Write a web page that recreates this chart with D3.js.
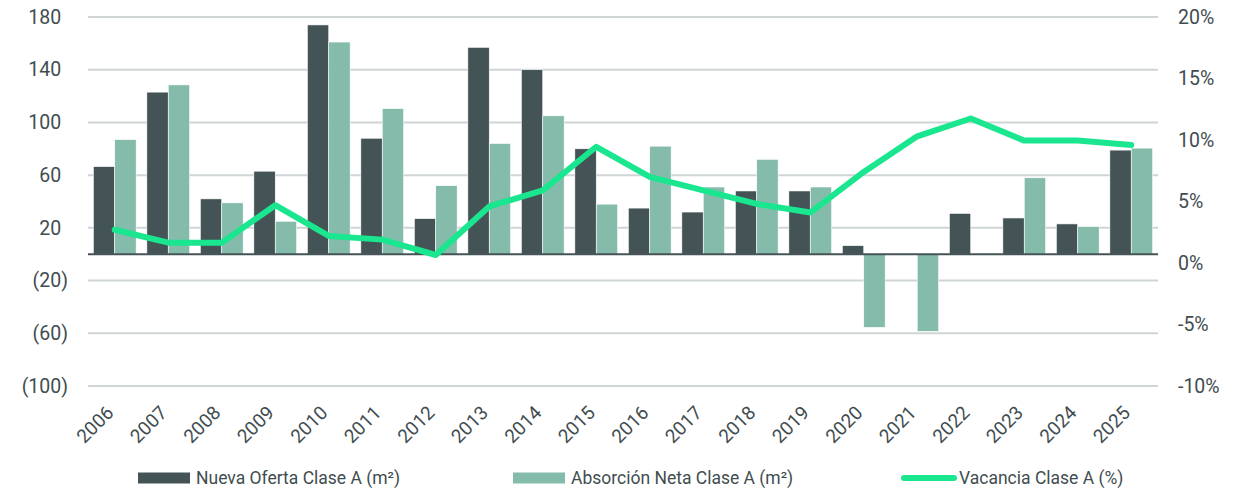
<!DOCTYPE html>
<html>
<head>
<meta charset="utf-8">
<script src="https://cdn.jsdelivr.net/npm/d3@7"></script>
<style>
	body { margin: 0; background: #fff; }
	text { font-family: Roboto, "Noto Sans", sans-serif; fill: #3f4d50; }
</style>
</head>
<body>
<svg id="mySVG" width="1248" height="492"></svg>
<script>
//Data
var years = ["2006","2007","2008","2009","2010","2011","2012","2013","2014","2015",
	"2016","2017","2018","2019","2020","2021","2022","2023","2024","2025"];
var nuevaOferta = [66.5, 123, 42, 63, 174, 88, 27, 157, 140, 80,
	35, 32, 48, 48, 6.5, 0, 31, 27.5, 23, 79];
var absorcionNeta = [87, 128.5, 39, 25, 161, 110.5, 52, 84, 105, 38,
	82, 51, 72, 51, -55.5, -58.5, 0, 58, 21, 80.5];
var vacancia = [2.7, 1.65, 1.65, 4.7, 2.2, 1.9, 0.65, 4.6, 5.9, 9.45,
	7.0, 5.9, 4.8, 4.1, 7.4, 10.3, 11.75, 9.95, 9.95, 9.6];
var leftTicks = [180, 140, 100, 60, 20, -20, -60, -100];
var rightTicks = [20, 15, 10, 5, 0, -5, -10];
var seriesNames = ["Nueva Oferta Clase A (m²)", "Absorción Neta Clase A (m²)", "Vacancia Clase A (%)"];

var colDark = "#445356";
var colLight = "#84bbab";
var colLine = "#1ae68f";
var colGrid = "#cfd5d6";

var svg = d3.select('#mySVG');
var plotLeft = 88, plotRight = 1158, plotTop = 17, plotBottom = 386;

var x0 = d3.scaleBand().domain(years).range([plotLeft, plotRight])
	.paddingInner(0.2).paddingOuter(0.1);
var x1 = d3.scaleBand().domain(["oferta", "absorcion"]).range([0, x0.bandwidth()]);
var yL = d3.scaleLinear().domain([-100, 180]).range([plotBottom, plotTop]);
var yR = d3.scaleLinear().domain([-10, 20]).range([plotBottom, plotTop]);

//gridlines
svg.append('g').selectAll('line')
	.data(leftTicks)
	.join('line')
	.attr("x1", plotLeft).attr("x2", plotRight)
	.attr("y1", function(d){ return yL(d); })
	.attr("y2", function(d){ return yL(d); })
	.attr("stroke", colGrid)
	.attr("stroke-width", 2);

//left axis labels, positives keep a hidden ")" so digits line up
var leftAxis = d3.axisLeft(yL).tickValues(leftTicks).tickSize(0).tickPadding(0)
	.tickFormat(function(d){ return d < 0 ? "(" + (-d) + ")" : d; });
var gl = svg.append('g').attr("transform", "translate(68,0)").call(leftAxis);
gl.select('.domain').remove();
gl.attr("font-family", null);
gl.selectAll('text')
	.attr("font-size", 19.5)
	.attr("text-anchor", "end")
	.each(function(d){
		if (d >= 0) {
			d3.select(this).append('tspan').attr("fill-opacity", 0).text(")");
		}
	});

//right axis labels
var rightAxis = d3.axisRight(yR).tickValues(rightTicks).tickSize(0).tickPadding(0)
	.tickFormat(function(d){ return d + "%"; });
var gr = svg.append('g').attr("transform", "translate(1178,0)").call(rightAxis);
gr.select('.domain').remove();
gr.attr("font-family", null);
gr.selectAll('text').attr("font-size", 19.5);

//bars
var groups = svg.append('g').selectAll('g')
	.data(years)
	.join('g')
	.attr("transform", function(d){ return "translate(" + x0(d) + ",0)"; });

groups.append('rect')
	.attr("x", x1("oferta"))
	.attr("width", x1.bandwidth())
	.attr("y", function(d, i){ return Math.min(yL(nuevaOferta[i]), yL(0)); })
	.attr("height", function(d, i){ return Math.abs(yL(nuevaOferta[i]) - yL(0)); })
	.attr("fill", colDark)
	.attr("stroke", "#fff").attr("stroke-width", 0.6);

groups.append('rect')
	.attr("x", x1("absorcion"))
	.attr("width", x1.bandwidth())
	.attr("y", function(d, i){ return Math.min(yL(absorcionNeta[i]), yL(0)); })
	.attr("height", function(d, i){ return Math.abs(yL(absorcionNeta[i]) - yL(0)); })
	.attr("fill", colLight)
	.attr("stroke", "#fff").attr("stroke-width", 0.6);

//zero line
svg.append('line')
	.attr("x1", plotLeft).attr("x2", plotRight)
	.attr("y1", yL(0)).attr("y2", yL(0))
	.attr("stroke", colDark)
	.attr("stroke-width", 2);

//vacancy line
var line = d3.line()
	.x(function(d, i){ return x0(years[i]) + x0.bandwidth() / 2; })
	.y(function(d){ return yR(d); });
svg.append('path')
	.datum(vacancia)
	.attr("d", line)
	.attr("fill", "none")
	.attr("stroke", colLine)
	.attr("stroke-width", 6)
	.attr("stroke-linejoin", "round")
	.attr("stroke-linecap", "round");

//x labels
svg.append('g').selectAll('text')
	.data(years)
	.join('text')
	.attr("transform", function(d){
		return "translate(" + (x0(d) + x0.bandwidth() / 2) + ",414) rotate(-45)";
	})
	.attr("text-anchor", "end")
	.attr("font-size", 19)
	.text(function(d){ return d; });

//legend
var legendX = [138, 513, 901];
var legend = svg.append('g').selectAll('g')
	.data(seriesNames)
	.join('g')
	.attr("transform", function(d, i){ return "translate(" + legendX[i] + ",478)"; });

legend.each(function(d, i){
	var g = d3.select(this);
	if (i < 2) {
		g.append('rect')
			.attr("x", 0).attr("y", -5.5)
			.attr("width", 52).attr("height", 11)
			.attr("fill", i == 0 ? colDark : colLight);
	} else {
		g.append('line')
			.attr("x1", 3).attr("x2", 53).attr("y1", 0).attr("y2", 0)
			.attr("stroke", colLine).attr("stroke-width", 6)
			.attr("stroke-linecap", "round");
	}
	g.append('text').attr("x", 58).attr("y", 0).attr("dy", "0.35em")
		.attr("font-size", 17.5).text(d);
});
</script>
</body>
</html>
